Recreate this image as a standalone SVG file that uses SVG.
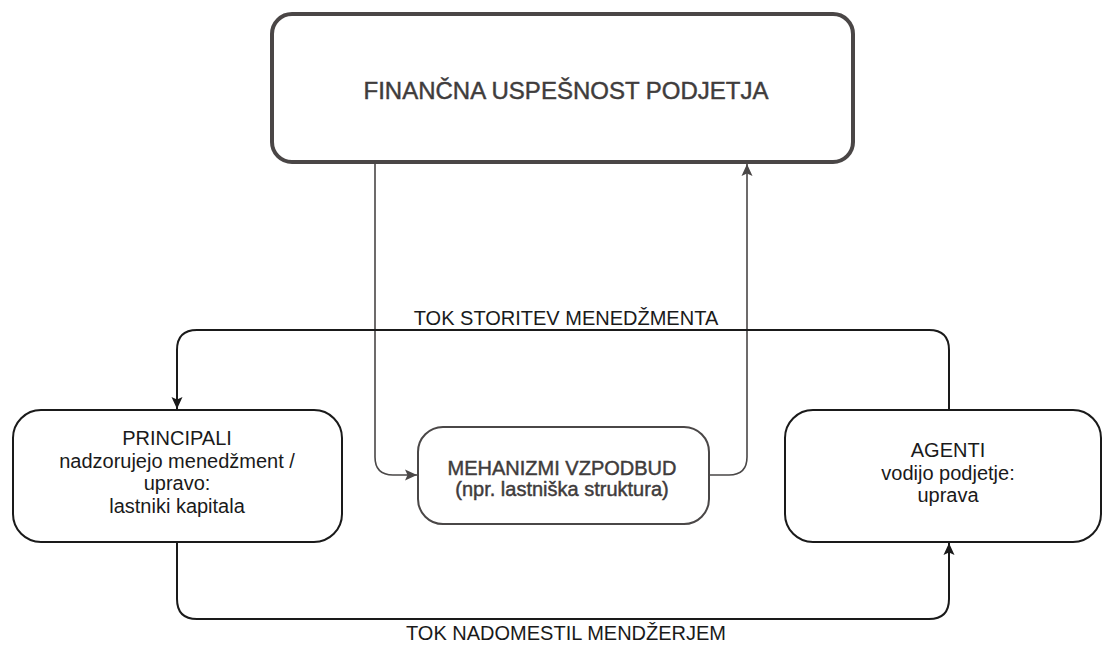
<svg xmlns="http://www.w3.org/2000/svg" width="1103" height="645" viewBox="0 0 1103 645">
  <style>
    text { font-family: "Liberation Sans", Arial, sans-serif; text-anchor: middle; }
    .t20 { font-size: 20px; fill: #1a1a1a; }
    .gray { fill: #3f3c3c; stroke: #3f3c3c; stroke-width: 0.45; }
    .box { fill: #ffffff; stroke: #1a1a1a; stroke-width: 2; }
    .gconn { fill: none; stroke: #4a4747; stroke-width: 1.6; }
    .bconn { fill: none; stroke: #1a1a1a; stroke-width: 2; }
  </style>
  <defs>
    <marker id="ahGray" viewBox="0 0 12 12" refX="12" refY="6" markerWidth="12" markerHeight="12" markerUnits="userSpaceOnUse" orient="auto">
      <path d="M0,0.5 L12,6 L0,11.5 L2.5,6 z" fill="#4a4747"/>
    </marker>
    <marker id="ahBlack" viewBox="0 0 12 12" refX="12" refY="6" markerWidth="13" markerHeight="12" markerUnits="userSpaceOnUse" orient="auto">
      <path d="M0,0.5 L12,6 L0,11.5 L2.5,6 z" fill="#1a1a1a"/>
    </marker>
  </defs>

  <g id="connectors">
    <path class="gconn" d="M375,162 V457 Q375,475 393,475 H417" marker-end="url(#ahGray)"/>
    <path class="gconn" d="M709,475 H729 Q747,475 747,457 V164" marker-end="url(#ahGray)"/>
    <path class="bconn" d="M949,410 V350 Q949,330 929,330 H197 Q177,330 177,350 V409" marker-end="url(#ahBlack)"/>
    <path class="bconn" d="M177,542 V599 Q177,619 197,619 H929 Q949,619 949,599 V543" marker-end="url(#ahBlack)"/>
    <text class="t20" x="566" y="325">TOK STORITEV MENEDŽMENTA</text>
    <text class="t20" x="566" y="640">TOK NADOMESTIL MENDŽERJEM</text>
  </g>

  <g id="financna-uspesnost">
    <rect x="272" y="14" width="581" height="148" rx="20" ry="20" fill="#ffffff" stroke="#4a4646" stroke-width="4"/>
    <text class="gray" x="566" y="99" font-size="24">FINANČNA USPEŠNOST PODJETJA</text>
  </g>

  <g id="principali">
    <rect class="box" x="13" y="410" width="329" height="132" rx="28" ry="28"/>
    <text class="t20" x="177" y="445">PRINCIPALI</text>
    <text class="t20" x="177" y="468">nadzorujejo menedžment /</text>
    <text class="t20" x="177" y="490">upravo:</text>
    <text class="t20" x="177" y="513">lastniki kapitala</text>
  </g>

  <g id="mehanizmi">
    <rect x="418" y="427" width="291" height="97" rx="25" ry="25" fill="#ffffff" stroke="#4a4747" stroke-width="2"/>
    <text class="gray" x="562" y="475" font-size="20">MEHANIZMI VZPODBUD</text>
    <text class="gray" x="562" y="496" font-size="20">(npr. lastniška struktura)</text>
  </g>

  <g id="agenti">
    <rect class="box" x="785" y="410" width="316" height="132" rx="28" ry="28"/>
    <text class="t20" x="948" y="457">AGENTI</text>
    <text class="t20" x="948" y="480">vodijo podjetje:</text>
    <text class="t20" x="948" y="502">uprava</text>
  </g>
</svg>
